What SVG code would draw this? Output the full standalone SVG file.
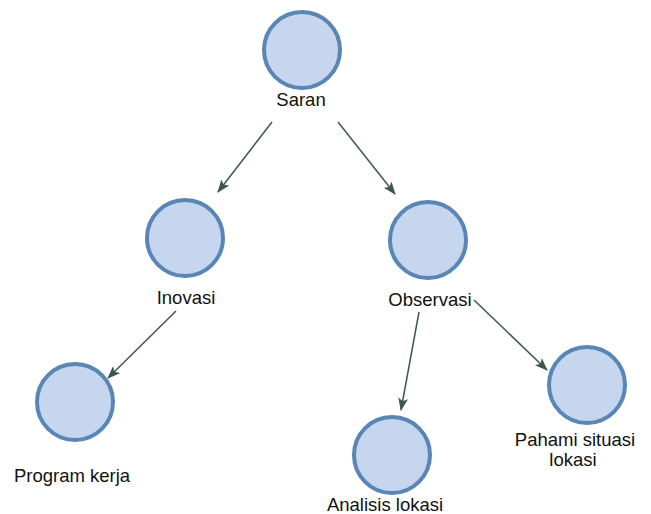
<svg xmlns="http://www.w3.org/2000/svg" width="651" height="514" viewBox="0 0 651 514">
<style>
.node circle{fill:#c6d6ee;stroke:#5a86b5;stroke-width:4}
.node text{font-family:"Liberation Sans",Arial,sans-serif;font-size:18.5px;fill:#111;text-anchor:middle}
.edge{stroke:#3e5652;stroke-width:1.5;fill:none;marker-end:url(#arr)}
</style>
<defs>
<marker id="arr" viewBox="0 0 13 10" refX="12" refY="5" markerWidth="13" markerHeight="10" markerUnits="userSpaceOnUse" orient="auto">
<path d="M0,0 L13,5 L0,10 L3,5 Z" fill="#3e5652"/>
</marker>
</defs>
<rect width="651" height="514" fill="#ffffff"/>
<g id="connectors">
<line class="edge" x1="272" y1="122" x2="218" y2="192"/>
<line class="edge" x1="338" y1="122" x2="395" y2="194"/>
<line class="edge" x1="176" y1="311" x2="108" y2="378"/>
<line class="edge" x1="419" y1="312" x2="401" y2="410"/>
<line class="edge" x1="474" y1="300" x2="547" y2="370"/>
</g>
<g id="saran" class="node"><circle cx="302" cy="50" r="38"/><text x="301" y="106">Saran</text></g>
<g id="inovasi" class="node"><circle cx="185" cy="238" r="38"/><text x="186" y="304">Inovasi</text></g>
<g id="observasi" class="node"><circle cx="428" cy="240" r="38"/><text x="430" y="306">Observasi</text></g>
<g id="program-kerja" class="node"><circle cx="75" cy="402" r="38"/><text x="72" y="482">Program kerja</text></g>
<g id="analisis-lokasi" class="node"><circle cx="392" cy="455" r="38"/><text x="385" y="511">Analisis lokasi</text></g>
<g id="pahami-situasi" class="node"><circle cx="587" cy="385" r="38"/><text x="575" y="446">Pahami situasi</text><text x="573" y="466">lokasi</text></g>
</svg>
